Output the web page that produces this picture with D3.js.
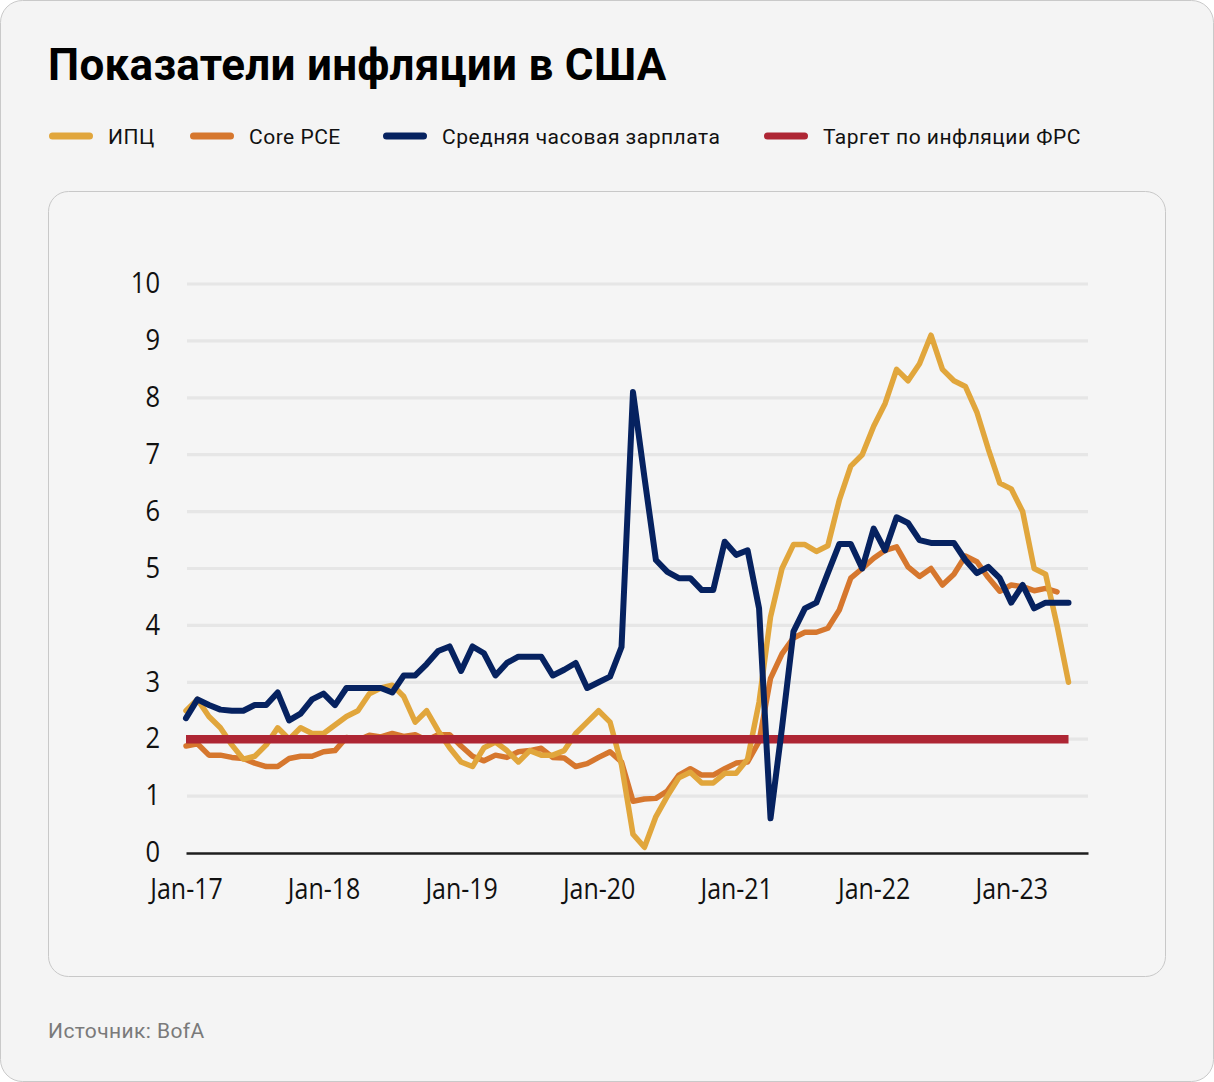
<!DOCTYPE html>
<html>
<head>
<meta charset="utf-8">
<script src="https://cdn.jsdelivr.net/npm/d3@7"></script>
<style>
  html, body { margin: 0; padding: 0; background: #ffffff; }
  svg { display: block; }
</style>
</head>
<body>
<svg id="chart" width="1214" height="1082"></svg>
<script>
// ---------------- DATA (monthly, Jan 2017 – Jun 2023) ----------------
const title = "Показатели инфляции в США";
const source = "Источник: BofA";
const seriesNames = ["ИПЦ", "Core PCE", "Средняя часовая зарплата", "Таргет по инфляции ФРС"];
const xTickLabels = ["Jan-17", "Jan-18", "Jan-19", "Jan-20", "Jan-21", "Jan-22", "Jan-23"];
const xTickMonths = [0, 12, 24, 36, 48, 60, 72];
const yTicks = [0, 1, 2, 3, 4, 5, 6, 7, 8, 9, 10];

// ИПЦ (CPI, % y/y)
const cpi = [
  2.5, 2.7, 2.4, 2.2, 1.9, 1.65, 1.7, 1.9, 2.2, 2.0, 2.2, 2.1,
  2.1, 2.25, 2.4, 2.5, 2.8, 2.9, 2.95, 2.75, 2.3, 2.5, 2.15, 1.85,
  1.6, 1.52, 1.85, 1.95, 1.8, 1.6, 1.8, 1.72, 1.72, 1.8, 2.1, 2.3,
  2.5, 2.3, 1.55, 0.33, 0.1, 0.64, 1.0, 1.32, 1.42, 1.23, 1.23, 1.4,
  1.4, 1.65, 2.65, 4.15, 5.0, 5.42, 5.42, 5.3, 5.4, 6.2, 6.8, 7.0,
  7.5, 7.9, 8.5, 8.3, 8.6, 9.1, 8.5, 8.3, 8.2, 7.75, 7.1, 6.5,
  6.4, 6.0, 5.0, 4.9, 4.0, 3.0
];
// Core PCE (% y/y)
const corePce = [
  1.88, 1.92, 1.72, 1.72, 1.68, 1.66, 1.58, 1.52, 1.52, 1.66, 1.7, 1.7,
  1.78, 1.8, 2.03, 1.98, 2.07, 2.04, 2.1, 2.05, 2.08, 1.98, 2.08, 2.08,
  1.88, 1.7, 1.62, 1.72, 1.68, 1.78, 1.8, 1.84, 1.68, 1.67, 1.52, 1.57,
  1.68, 1.78, 1.6, 0.91, 0.95, 0.96, 1.09, 1.37, 1.48, 1.37, 1.37, 1.48,
  1.58, 1.6, 1.96, 3.07, 3.5, 3.78, 3.88, 3.88, 3.95, 4.27, 4.83, 5.0,
  5.18, 5.32, 5.38, 5.03, 4.86, 5.0, 4.71, 4.9, 5.22, 5.12, 4.84, 4.6,
  4.71, 4.68, 4.61, 4.65, 4.59
];
// Средняя часовая зарплата (average hourly earnings, % y/y)
const wages = [
  2.37, 2.7, 2.6, 2.52, 2.5, 2.5, 2.6, 2.6, 2.82, 2.33, 2.45, 2.7,
  2.8, 2.6, 2.9, 2.9, 2.9, 2.9, 2.82, 3.12, 3.12, 3.32, 3.55, 3.63,
  3.2, 3.63, 3.51, 3.12, 3.34, 3.45, 3.45, 3.45, 3.12, 3.22, 3.34, 2.9,
  3.0, 3.1, 3.62, 8.1, 6.6, 5.15, 4.94, 4.83, 4.83, 4.62, 4.62, 5.47,
  5.24, 5.32, 4.3, 0.61, 2.2, 3.89, 4.3, 4.4, 4.92, 5.43, 5.43, 5.0,
  5.7, 5.32, 5.9, 5.8, 5.5, 5.45, 5.45, 5.45, 5.15, 4.92, 5.03, 4.83,
  4.4, 4.71, 4.3, 4.4, 4.4, 4.4
];
// Таргет по инфляции ФРС
const fedTarget = 2;
const targetMonths = [0, 77];

const colors = ["#E1A63C", "#D6772E", "#062260", "#AE2634"];

// ---------------- LAYOUT ----------------
const W = 1214, H = 1082;
const plot = { left: 186, right: 1088, top: 284, bottom: 853 };
const legendX = [49, 190, 383, 764];
const svg = d3.select("#chart");

// Outer card
svg.append("rect")
  .attr("x", 0.5).attr("y", 0.5).attr("width", W - 1).attr("height", H - 1)
  .attr("rx", 22).attr("fill", "#f4f4f4").attr("stroke", "#c9c9c9");

// Title
svg.append("text")
  .attr("x", 48).attr("y", 80)
  .attr("font-family", "Roboto, 'Noto Sans', sans-serif")
  .attr("font-weight", 700).attr("font-size", 44)
  .attr("letter-spacing", 0.3)
  .attr("fill", "#000")
  .text(title);

// Legend
const legendG = svg.append("g").attr("transform", "translate(0,136)");
seriesNames.forEach((name, i) => {
  const lx = legendX[i] + 3.5;
  const g = legendG.append("g");
  g.append("line")
    .attr("x1", lx).attr("x2", lx + 37).attr("y1", 0).attr("y2", 0)
    .attr("stroke", colors[i]).attr("stroke-width", 7).attr("stroke-linecap", "round");
  g.append("text")
    .attr("x", legendX[i] + 59).attr("y", 7.5)
    .attr("font-family", "Roboto, 'Noto Sans', sans-serif")
    .attr("font-size", 21).attr("letter-spacing", 0.5).attr("fill", "#111")
    .text(name);
});

// Inner card
svg.append("rect")
  .attr("x", 48.5).attr("y", 191.5).attr("width", 1117).attr("height", 785)
  .attr("rx", 20).attr("fill", "#f5f5f5").attr("stroke", "#c8c8c8");

// Source
svg.append("text")
  .attr("x", 48).attr("y", 1038)
  .attr("font-family", "Roboto, 'Noto Sans', sans-serif")
  .attr("font-size", 21).attr("letter-spacing", 0.4).attr("fill", "#7a7a7a")
  .text(source);

// Scales
const x = d3.scaleLinear().domain([0, 78.7]).range([plot.left, plot.right]);
const y = d3.scaleLinear().domain([0, 10]).range([plot.bottom, plot.top]);

// Grid lines
svg.append("g").selectAll("line")
  .data(yTicks.filter(d => d > 0))
  .join("line")
  .attr("x1", x(0) + 1).attr("x2", x(78.7))
  .attr("y1", d => y(d)).attr("y2", d => y(d))
  .attr("stroke", "#e6e6e6").attr("stroke-width", 3.2);

// Axis fonts helper: condense tick text
function condense(sel, factor) {
  sel.each(function () {
    const w = this.getComputedTextLength();
    d3.select(this).attr("textLength", w * factor).attr("lengthAdjust", "spacingAndGlyphs");
  });
}

// Y axis
const yAxisG = svg.append("g")
  .attr("transform", `translate(${plot.left},0)`)
  .call(d3.axisLeft(y).tickValues(yTicks).tickFormat(d3.format("d")).tickSize(0).tickPadding(26));
yAxisG.select(".domain").remove();
yAxisG.selectAll("text")
  .attr("font-family", "'Open Sans', 'Noto Sans', sans-serif")
  .attr("font-size", 29).attr("fill", "#111")
  .attr("dy", "0.3em");
condense(yAxisG.selectAll("text"), 0.88);

// Series lines
const lineGen = d3.line()
  .x((d, i) => x(i))
  .y(d => y(d));

const drawSeries = (data, color, width) => {
  svg.append("path")
    .datum(data)
    .attr("fill", "none")
    .attr("stroke", color)
    .attr("stroke-width", width)
    .attr("stroke-linejoin", "round")
    .attr("stroke-linecap", "round")
    .attr("d", lineGen);
};

drawSeries(corePce, colors[1], 5.5);
drawSeries(cpi, colors[0], 5.5);

// Target line
svg.append("line")
  .attr("x1", x(targetMonths[0])).attr("x2", x(targetMonths[1]))
  .attr("y1", y(fedTarget)).attr("y2", y(fedTarget))
  .attr("stroke", colors[3]).attr("stroke-width", 8.5);

drawSeries(wages, colors[2], 6);

// X axis
const xAxisG = svg.append("g")
  .attr("transform", `translate(0,${plot.bottom})`)
  .call(d3.axisBottom(x).tickValues(xTickMonths)
    .tickFormat((d, i) => xTickLabels[i]).tickSize(0).tickPadding(25));
xAxisG.select(".domain")
  .attr("stroke", "#1e1e1e").attr("stroke-width", 2.6);
xAxisG.selectAll("text")
  .attr("font-family", "'Open Sans', 'Noto Sans', sans-serif")
  .attr("font-size", 29).attr("fill", "#111");
condense(xAxisG.selectAll("text"), 0.86);
</script>
</body>
</html>
